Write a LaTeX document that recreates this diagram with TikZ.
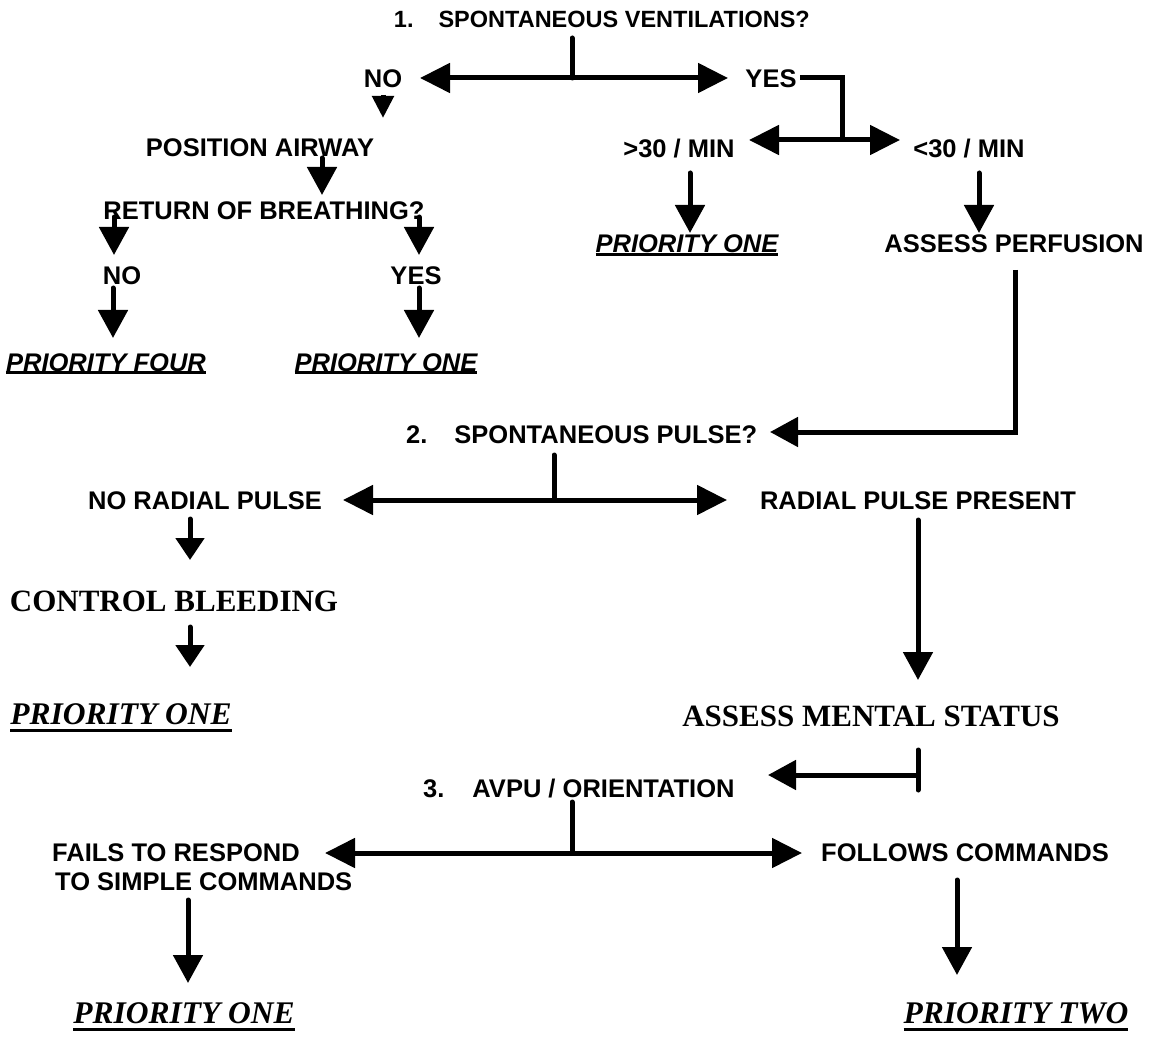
\documentclass[tikz,border=0pt]{standalone}
\usepackage{fontspec}
\setmainfont{Liberation Serif}
\newfontfamily\ar{Liberation Sans}
\usetikzlibrary{arrows.meta}
\newcommand\myul[3]{\setbox0\hbox{#3}\rlap{\rule[-#1]{\wd0}{#2}}\box0}
\begin{document}
\begin{tikzpicture}[x=1pt,y=-1pt,
  lab/.style={font=\ar\bfseries\fontsize{25.5}{28}\selectfont, inner sep=0pt},
  labit/.style={font=\ar\bfseries\itshape\fontsize{25.5}{28}\selectfont, inner sep=0pt},
  ser/.style={font=\bfseries\fontsize{31}{34}\selectfont, inner sep=0pt},
  serit/.style={font=\bfseries\itshape\fontsize{31.5}{34}\selectfont, inner sep=0pt},
  ln/.style={line width=5pt, line cap=round},
  arr/.style={line width=5pt, line cap=round, -{Triangle[length=28pt,width=29pt]}},
  sarr/.style={line width=5pt, line cap=round, -{Triangle[length=22pt,width=28pt]}},
  darr/.style={line width=5pt, {Triangle[length=30pt,width=29pt]}-{Triangle[length=30pt,width=29pt]}},
  harr/.style={line width=5pt, line join=miter, -{Triangle[length=28pt,width=29pt]}}]
\useasboundingbox (0,0) rectangle (1151,1040);

% ---------- texts ----------
\node[lab, font=\ar\bfseries\fontsize{23.5}{26}\selectfont, anchor=base east] (h1) at (810,28) {1.\hspace{25pt}SPONTANEOUS VENTILATIONS?};
\node[lab, anchor=base] (no1) at (383,88) {NO};
\node[lab, anchor=base] (yes1) at (771,88) {YES};
\node[lab, anchor=base] (posair) at (260,157) {POSITION AIRWAY};
\node[lab, anchor=base] (gt30) at (679,158) {>30 / MIN};
\node[lab, anchor=base] (lt30) at (969,158) {<30 / MIN};
\node[lab, anchor=base] (retb) at (264,220) {RETURN OF BREATHING?};
\node[labit, anchor=base] (p1a) at (687,253) {\myul{3pt}{2.5pt}{PRIORITY ONE}};
\node[lab, anchor=base] (assp) at (1014,253) {ASSESS PERFUSION};
\node[lab, anchor=base] (no2) at (122,285) {NO};
\node[lab, anchor=base] (yes2) at (416,285) {YES};
\node[labit, anchor=base] (p4) at (106,371) {\myul{3pt}{2.5pt}{PRIORITY FOUR}};
\node[labit, anchor=base] (p1b) at (386,371) {\myul{3pt}{2.5pt}{PRIORITY ONE}};

\node[lab, anchor=base west] (h2) at (406,443) {2.\hspace{27pt}SPONTANEOUS PULSE?};
\node[lab, anchor=base] (nrp) at (205,509) {NO RADIAL PULSE};
\node[lab, anchor=base] (rpp) at (918,509) {RADIAL PULSE PRESENT};
\node[ser, anchor=base] (cb) at (174,611) {CONTROL BLEEDING};
\node[serit, anchor=base] (p1c) at (121,724) {\myul{8pt}{3pt}{PRIORITY ONE}};
\node[ser, anchor=base] (ams) at (871,726) {ASSESS MENTAL STATUS};

\node[lab, anchor=base west] (h3) at (423,797) {3.\hspace{28pt}AVPU / ORIENTATION};
\node[lab, anchor=base west] (fails) at (52,861) {FAILS TO RESPOND};
\node[lab, anchor=base west] (fails2) at (55,890) {TO SIMPLE COMMANDS};
\node[lab, anchor=base] (follows) at (965,861) {FOLLOWS COMMANDS};
\node[serit, anchor=base] (p1d) at (184,1023) {\myul{8pt}{3pt}{PRIORITY ONE}};
\node[serit, anchor=base] (p2) at (1016,1023) {\myul{8pt}{3pt}{PRIORITY TWO}};

% ---------- connector points ----------
\coordinate (t1a) at (572,38);   \coordinate (t1b) at (572,78);
\coordinate (d1l) at (420,78);   \coordinate (d1r) at (728,78);
\coordinate (no1a) at (383,95);  \coordinate (no1b) at (383,118);
\coordinate (y1a) at (800,78);   \coordinate (y1c) at (842,78);  \coordinate (y1b) at (842,140);
\coordinate (d2l) at (749,140);  \coordinate (d2r) at (900,140);
\coordinate (pa1) at (322,158);  \coordinate (pa2) at (322,195);
\coordinate (rl1) at (114,217);  \coordinate (rl2) at (114,255);
\coordinate (rr1) at (419,217);  \coordinate (rr2) at (419,255);
\coordinate (nl1) at (113,288);  \coordinate (nl2) at (113,338);
\coordinate (nr1) at (419,288);  \coordinate (nr2) at (419,338);
\coordinate (g1) at (690,173);   \coordinate (g2) at (690,233);
\coordinate (l1) at (979,173);   \coordinate (l2) at (979,233);
\coordinate (pf1) at (1015,270); \coordinate (pf2) at (1015,432); \coordinate (pf3) at (770,432);
\coordinate (t2a) at (554,455);  \coordinate (t2b) at (554,500);
\coordinate (d3l) at (343,500);  \coordinate (d3r) at (727,500);
\coordinate (nr3) at (190,519);  \coordinate (nr4) at (190,560);
\coordinate (cb1) at (190,627);  \coordinate (cb2) at (190,667);
\coordinate (rp1) at (918,520);  \coordinate (rp2) at (918,680);
\coordinate (am1) at (918,750);  \coordinate (am2) at (918,790);
\coordinate (am3) at (918,775);  \coordinate (am4) at (768,775);
\coordinate (t3a) at (572,802);  \coordinate (t3b) at (572,853);
\coordinate (d4l) at (325,853);  \coordinate (d4r) at (802,853);
\coordinate (fa1) at (188,900);  \coordinate (fa2) at (188,983);
\coordinate (fo1) at (957,880);  \coordinate (fo2) at (957,975);

% ---------- connectors ----------
\draw[ln] (t1a) -- (t1b);
\draw[darr] (d1l) -- (d1r);
\draw[line width=5pt, -{Triangle[length=22pt,width=21pt]}] (no1a) -- (no1b);
\draw[line width=5pt, line join=miter] (y1a) -- (y1c) -- (y1b);
\draw[darr] (d2l) -- (d2r);
\draw[arr] (pa1) -- (pa2);
\draw[arr] (rl1) -- (rl2);
\draw[arr] (rr1) -- (rr2);
\draw[arr] (nl1) -- (nl2);
\draw[arr] (nr1) -- (nr2);
\draw[arr] (g1) -- (g2);
\draw[arr] (l1) -- (l2);
\draw[harr] (pf1) -- (pf2) -- (pf3);
\draw[ln] (t2a) -- (t2b);
\draw[darr] (d3l) -- (d3r);
\draw[sarr] (nr3) -- (nr4);
\draw[sarr] (cb1) -- (cb2);
\draw[arr] (rp1) -- (rp2);
\draw[ln] (am1) -- (am2);
\draw[arr] (am3) -- (am4);
\draw[ln] (t3a) -- (t3b);
\draw[darr] (d4l) -- (d4r);
\draw[arr] (fa1) -- (fa2);
\draw[arr] (fo1) -- (fo2);
\end{tikzpicture}
\end{document}
